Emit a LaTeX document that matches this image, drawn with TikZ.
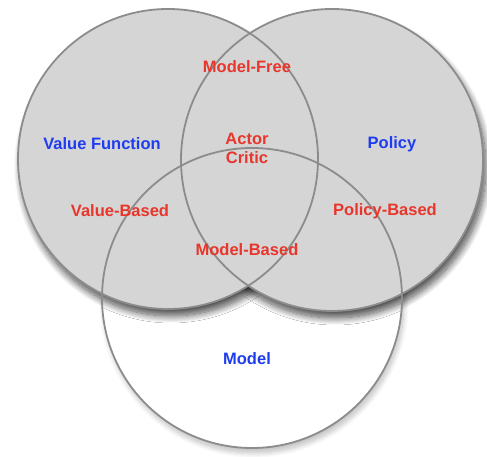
\documentclass[tikz,border=0pt]{standalone}
\usepackage{fontspec}
\setmainfont{Liberation Sans}
\usetikzlibrary{shadows.blur}
\definecolor{vfill}{HTML}{D5D5D5}
\definecolor{vline}{HTML}{8C8C8C}
\definecolor{vblue}{HTML}{1E3CF0}
\definecolor{vred}{HTML}{E8362C}
\tikzset{
  ring/.style={draw=vline, line width=1.8pt},
  topshadow/.style={blur shadow={shadow xshift=3pt, shadow yshift=-7pt, shadow blur radius=7pt, shadow blur steps=14, shadow opacity=70}},
  lowshadow/.style={blur shadow={shadow xshift=2pt, shadow yshift=-5pt, shadow blur radius=5pt, shadow blur steps=10, shadow opacity=25}},
  bluelbl/.style={text=vblue, font=\bfseries\fontsize{16.5}{19}\selectfont, inner sep=0pt},
  redlbl/.style={text=vred, font=\bfseries\fontsize{16.5}{19}\selectfont, inner sep=0pt, align=center},
}
\begin{document}
\begin{tikzpicture}[x=1pt,y=1pt]
\useasboundingbox (0,0) rectangle (487,457);
% centres (pixel coords, y flipped)
\coordinate (cl) at (168,298);
\coordinate (cr) at (332,297);
\coordinate (cb) at (252,159);
% bottom circle with faint shadow
\path[lowshadow, fill=white] (cb) circle[radius=150];
% top circles shadows then fills
\path[topshadow, fill=vfill] (cl) circle[radius=150];
\path[topshadow, fill=vfill] (cr) circle[radius=151];
\fill[vfill] (cl) circle[radius=150];
\fill[vfill] (cr) circle[radius=151];
% outlines
\draw[ring] (cl) circle[radius=150];
\draw[ring] (cr) circle[radius=151];
\draw[ring] (cb) circle[radius=150];
% labels
\node[bluelbl] (vf) at (102,313) {Value Function};
\node[bluelbl] (po) at (392,313) {Policy};
\node[bluelbl] (mo) at (247,98) {Model};
\node[redlbl] (mf) at (247,390) {Model-Free};
\node[redlbl] (ac) at (247,309) {Actor\\Critic};
\node[redlbl] (vb) at (120,246) {Value-Based};
\node[redlbl] (pb) at (385,246) {Policy-Based};
\node[redlbl] (mb) at (247,207) {Model-Based};
\end{tikzpicture}
\end{document}
